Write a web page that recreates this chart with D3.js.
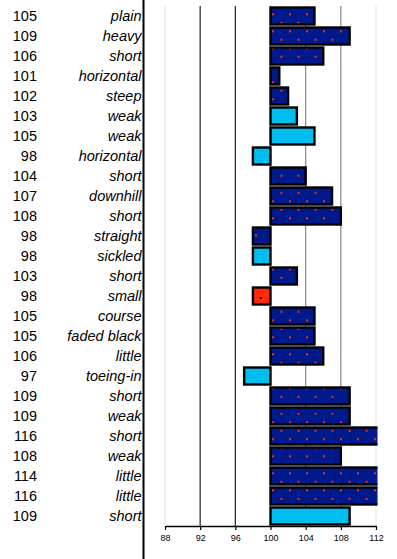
<!DOCTYPE html>
<html><head><meta charset="utf-8">
<script src="https://cdn.jsdelivr.net/npm/d3@7"></script>
<style>html,body{margin:0;padding:0;background:#fff;}svg{display:block;}</style>
</head><body>
<script>
const labels = ["plain","heavy","short","horizontal","steep","weak","weak","horizontal","short","downhill","short","straight","sickled","short","small","course","faded black","little","toeing-in","short","weak","short","weak","little","little","short"];
const values = [105,109,106,101,102,103,105,98,104,107,108,98,98,103,98,105,105,106,97,109,109,116,108,114,116,109];
const groups = ["dark","dark","dark","dark","dark","cyan","cyan","cyan","dark","dark","dark","dark","cyan","dark","red","dark","dark","dark","cyan","dark","dark","dark","dark","dark","dark","cyan"];
const ticks = [88,92,96,100,104,108,112];
const gridColors = ["#e4e4e4","#222","#222","#888","#888","#888","#e4e4e4"];

const W = 397, H = 559;
const svg = d3.select("body").append("svg").attr("width", W).attr("height", H);
const defs = svg.append("defs");

const pd = defs.append("pattern").attr("id","pDark").attr("patternUnits","userSpaceOnUse").attr("width",17).attr("height",17);
pd.append("rect").attr("width",17).attr("height",17).attr("fill","#001a8e");
pd.append("rect").attr("x",0).attr("y",13.3).attr("width",2).attr("height",2).attr("fill","#ff2a00");
pd.append("rect").attr("x",8.5).attr("y",4.8).attr("width",2).attr("height",2).attr("fill","#ff2a00");

const pr = defs.append("pattern").attr("id","pRed").attr("patternUnits","userSpaceOnUse").attr("width",17).attr("height",17);
pr.append("rect").attr("width",17).attr("height",17).attr("fill","#ff2a00");
pr.append("rect").attr("x",4.7).attr("y",8).attr("width",2).attr("height",2).attr("fill","#001a8e");
pr.append("rect").attr("x",13.2).attr("y",16.5).attr("width",2).attr("height",2).attr("fill","#001a8e");

const fills = {dark:"url(#pDark)", cyan:"#00bdf0", red:"url(#pRed)"};

const x = d3.scaleLinear().domain([88,112]).range([165,376]);
const y = d3.scaleBand().domain(d3.range(values.length)).range([6,526]).paddingInner(0.15).paddingOuter(0.075);

defs.append("clipPath").attr("id","plotClip").append("rect")
  .attr("x", x(88)).attr("y", 0).attr("width", x(112)-x(88)+1.5).attr("height", 530);

// gridlines
svg.append("g").selectAll("line").data(ticks).join("line")
  .attr("x1", d=>x(d)).attr("x2", d=>x(d))
  .attr("y1", 6).attr("y2", 526)
  .attr("stroke", (d,i)=>gridColors[i]).attr("stroke-width", 1.2);

// bars
svg.append("g").attr("clip-path","url(#plotClip)").selectAll("rect").data(values).join("rect")
  .attr("x", d=>x(Math.min(d,100)))
  .attr("y", (d,i)=>y(i))
  .attr("width", d=>Math.abs(x(d)-x(100)))
  .attr("height", y.bandwidth())
  .attr("fill", (d,i)=>fills[groups[i]])
  .attr("stroke", "#000").attr("stroke-width", 2.4);

// axis
const axis = svg.append("g").attr("transform","translate(0,526)")
  .call(d3.axisBottom(x).tickValues(ticks).tickSize(4).tickSizeOuter(0).tickPadding(5));
axis.select(".domain").attr("stroke","#000").attr("stroke-width",1.5);
axis.selectAll(".tick line").attr("stroke","#000").attr("stroke-width",1.2);
axis.selectAll("text").attr("font-family","Liberation Sans, Arial, sans-serif").attr("font-size","9px").attr("fill","#000");

// left divider
svg.append("line").attr("x1",143.5).attr("x2",143.5).attr("y1",0).attr("y2",H).attr("stroke","#000").attr("stroke-width",2);

// number column
svg.append("g").selectAll("text").data(values).join("text")
  .attr("x", 37).attr("y", (d,i)=>y(i)+y.bandwidth()/2)
  .attr("dy","0.36em").attr("text-anchor","end")
  .attr("font-family","Liberation Sans, Arial, sans-serif").attr("font-size","14.5px").attr("fill","#000")
  .text(d=>d);

// label column
svg.append("g").selectAll("text").data(labels).join("text")
  .attr("x", 141.5).attr("y", (d,i)=>y(i)+y.bandwidth()/2)
  .attr("dy","0.36em").attr("text-anchor","end").attr("font-style","italic")
  .attr("font-family","Liberation Sans, Arial, sans-serif").attr("font-size","14.5px").attr("fill","#000")
  .text(d=>d);
</script>
</body></html>
